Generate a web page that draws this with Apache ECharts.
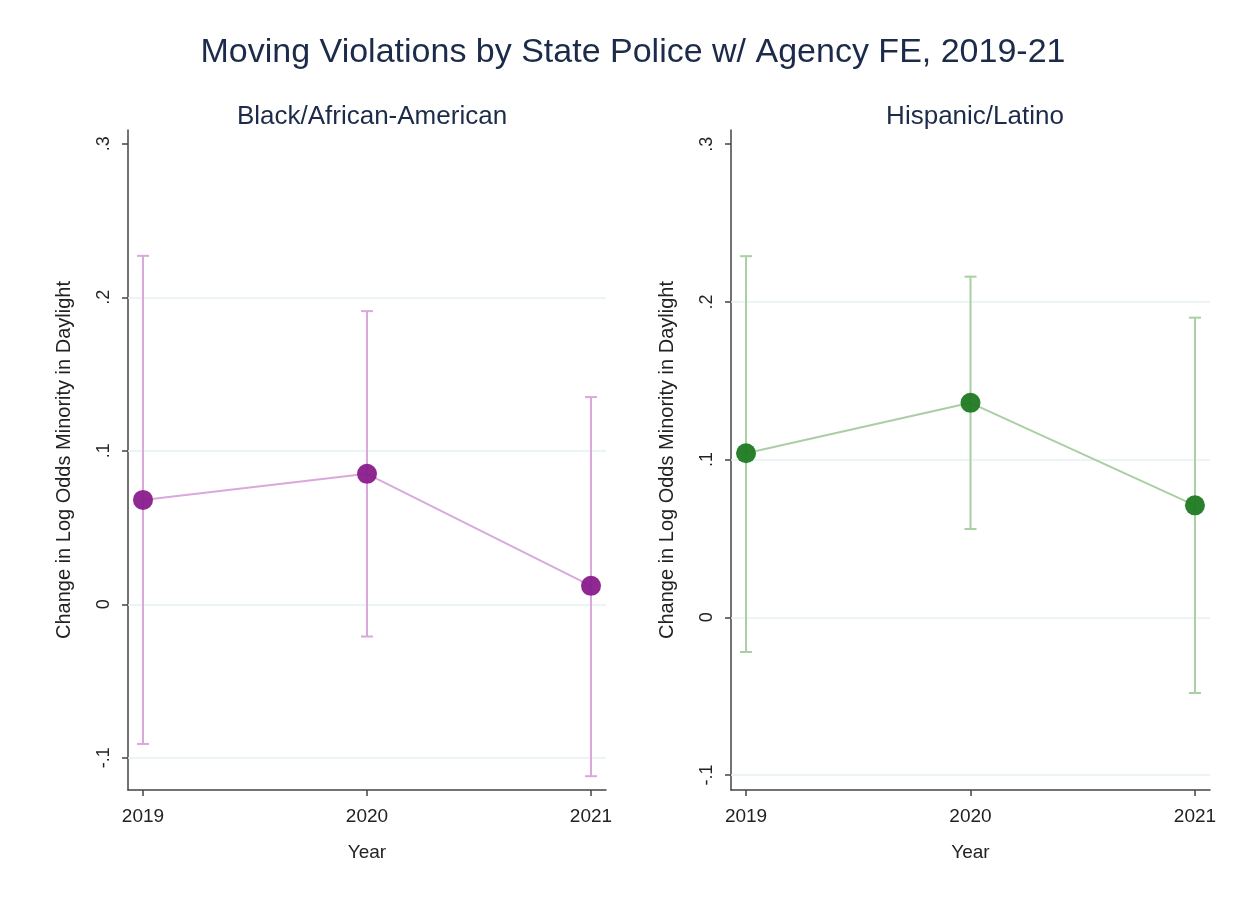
<!DOCTYPE html>
<html>
<head>
<meta charset="utf-8">
<script src="https://cdn.jsdelivr.net/npm/echarts@6/dist/echarts.min.js"></script>
<style>
  html, body { margin: 0; padding: 0; background: #fff; }
  #chart { width: 1249px; height: 907px; }
</style>
</head>
<body>
<div id="chart"></div>
<script>
// data
const years = [2019, 2020, 2021];
const blackEst = [0.068, 0.085, 0.012];
const blackLo = [-0.091, -0.021, -0.112];
const blackHi = [0.227, 0.191, 0.135];
const hispEst = [0.104, 0.136, 0.071];
const hispLo = [-0.022, 0.056, -0.048];
const hispHi = [0.229, 0.216, 0.190];
const yTicks = [-0.1, 0, 0.1, 0.2, 0.3];
const yGridLines = [-0.1, 0, 0.1, 0.2];
const panelTitles = ["Black/African-American", "Hispanic/Latino"];

const FONT = "Liberation Sans, Arial, sans-serif";
const fmtTick = (v) => {
  if (Math.abs(v) < 1e-9) return "0";
  return String(Math.round(v * 10) / 10).replace("0.", ".");
};

const chart = echarts.init(document.getElementById("chart"));

// panel layout
const panels = [
  { left: 128, width: 478, yMin: -0.121, yMax: 0.309, est: blackEst, lo: blackLo, hi: blackHi,
    light: "#dba8dc", dark: "#8a1c8c" },
  { left: 731, width: 479, yMin: -0.1095, yMax: 0.309, est: hispEst, lo: hispLo, hi: hispHi,
    light: "#a9cfa3", dark: "#1f7a22" },
];

const grids = [], xAxes = [], yAxes = [], series = [];

panels.forEach((p, i) => {
  grids.push({ left: p.left, top: 130, width: p.width, height: 660 });
  xAxes.push({
    type: "value",
    gridIndex: i,
    min: 2018.933,
    max: 2021.067,
    name: "Year",
    nameLocation: "middle",
    nameGap: 53,
    nameTextStyle: { fontFamily: FONT, fontSize: 19, color: "#222" },
    axisLine: { onZero: false, lineStyle: { color: "#444", width: 1.5 } },
    axisTick: { customValues: years, length: 6, lineStyle: { color: "#444", width: 1.5 } },
    axisLabel: {
      customValues: years,
      formatter: (v) => String(v),
      fontFamily: FONT, fontSize: 19, color: "#222", margin: 17,
    },
    splitLine: { show: false },
  });
  yAxes.push({
    type: "value",
    gridIndex: i,
    min: p.yMin,
    max: p.yMax,
    name: "Change in Log Odds Minority in Daylight",
    nameLocation: "middle",
    nameRotate: 90,
    nameGap: 54,
    nameTextStyle: { fontFamily: FONT, fontSize: 20, color: "#222" },
    axisLine: { show: true, onZero: false, lineStyle: { color: "#444", width: 1.5 } },
    axisTick: { show: true, customValues: yTicks, length: 6, lineStyle: { color: "#444", width: 1.5 } },
    axisLabel: {
      customValues: yTicks,
      rotate: 90,
      formatter: fmtTick,
      fontFamily: FONT, fontSize: 18, color: "#222", margin: 15,
    },
    splitLine: { show: false },
  });

  // confidence intervals
  series.push({
    type: "custom",
    xAxisIndex: i,
    yAxisIndex: i,
    data: years.map((y, k) => [y, p.lo[k], p.hi[k]]),
    renderItem: (params, api) => {
      const lo = api.coord([api.value(0), api.value(1)]);
      const hi = api.coord([api.value(0), api.value(2)]);
      const cap = 6;
      const style = { stroke: p.light, lineWidth: 2 };
      return {
        type: "group",
        children: [
          { type: "line", shape: { x1: lo[0], y1: lo[1], x2: hi[0], y2: hi[1] }, style },
          { type: "line", shape: { x1: lo[0] - cap, y1: lo[1], x2: lo[0] + cap, y2: lo[1] }, style },
          { type: "line", shape: { x1: hi[0] - cap, y1: hi[1], x2: hi[0] + cap, y2: hi[1] }, style },
        ],
      };
    },
    z: 2,
    silent: true,
  });

  // point estimates
  series.push({
    type: "line",
    xAxisIndex: i,
    yAxisIndex: i,
    data: years.map((y, k) => [y, p.est[k]]),
    symbol: "circle",
    symbolSize: 20,
    lineStyle: { color: p.light, width: 2 },
    itemStyle: { color: p.dark, opacity: 0.95 },
    z: 3,
    animation: false,
    markLine: {
      silent: true,
      symbol: "none",
      label: { show: false },
      lineStyle: { color: "#e6f0f2", width: 1.5, type: "solid" },
      data: yGridLines.map((v) => ({ yAxis: v })),
      z: 1,
    },
  });
});

const option = {
  backgroundColor: "#fff",
  animation: false,
  title: [
    {
      text: "Moving Violations by State Police w/ Agency FE, 2019-21",
      left: 628, top: 31, textAlign: "center",
      textStyle: { fontFamily: FONT, fontSize: 34, fontWeight: "normal", color: "#1c2b4a" },
    },
    {
      text: panelTitles[0],
      left: 367, top: 99, textAlign: "center",
      textStyle: { fontFamily: FONT, fontSize: 26, fontWeight: "normal", color: "#1c2b4a" },
    },
    {
      text: panelTitles[1],
      left: 970, top: 99, textAlign: "center",
      textStyle: { fontFamily: FONT, fontSize: 26, fontWeight: "normal", color: "#1c2b4a" },
    },
  ],
  grid: grids,
  xAxis: xAxes,
  yAxis: yAxes,
  series: series,
};
chart.setOption(option);
</script>
</body>
</html>
